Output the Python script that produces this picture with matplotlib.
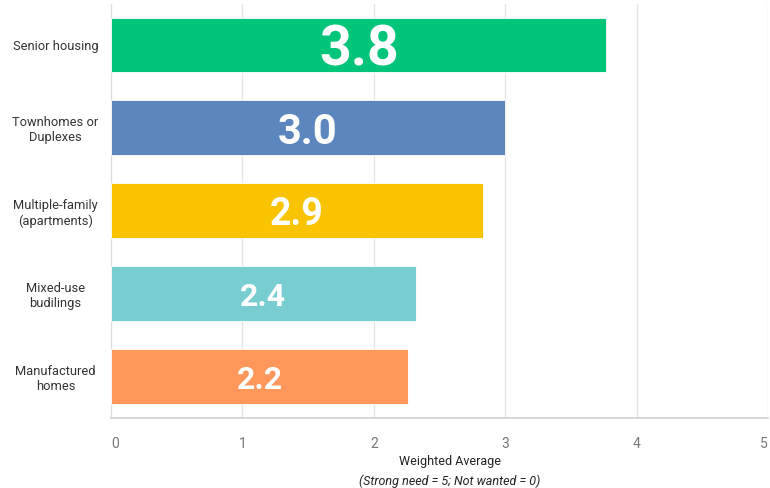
import numpy as np
import matplotlib.pyplot as plt

categories = ['Senior housing', 'Townhomes or\nDuplexes', 'Multiple-family\n(apartments)',
              'Mixed-use\nbudilings', 'Manufactured\nhomes']
values = [3.77, 3.0, 2.83, 2.32, 2.26]
value_labels = ['3.8', '3.0', '2.9', '2.4', '2.2']
label_sizes = [40, 30, 27, 23, 23]
colors = ['#02c57a', '#5b86be', '#f9c300', '#78cdd1', '#ff965a']

plt.rcParams['font.family'] = ['Roboto', 'DejaVu Sans']

fig = plt.figure(figsize=(7.7, 4.88), dpi=100)
ax = fig.add_axes([111/770, 1 - 418/488, (768 - 111)/770, (418 - 4)/488])

y = np.arange(len(categories))
ax.barh(y, values, height=0.66, color=colors, edgecolor='white', linewidth=0.6, zorder=3)

for i, (v, lab) in enumerate(zip(values, value_labels)):
    ax.text(v / 2, i, lab, ha='center', va='center_baseline', color='white',
            fontsize=label_sizes[i], fontweight='bold', zorder=4)

ax.set_xlim(0, 5)
ax.set_ylim(len(categories) - 0.5, -0.494)
ax.set_xticks(range(6))
ax.set_yticks(y)
ax.set_yticklabels(categories, ha='center', multialignment='center')
ax.tick_params(axis='y', length=0, pad=40, labelsize=9.3, labelcolor='#333333')
ax.tick_params(axis='x', length=0, pad=14, labelsize=10, labelcolor='#777777')
xt = ax.get_xticklabels()
xt[0].set_ha('left')
xt[-1].set_ha('right')

ax.grid(axis='x', color='#e6e6e6', linewidth=1, zorder=0)
for s in ['top', 'right']:
    ax.spines[s].set_visible(False)
ax.spines['left'].set_color('#dddddd')
ax.spines['bottom'].set_color('#d0d0d0')
ax.spines['bottom'].set_linewidth(1.2)

fig.text(450/770, 1 - 461/488, 'Weighted Average', ha='center', va='center',
         fontsize=9, color='#222222')
fig.text(450/770, 1 - 481/488, '(Strong need = 5; Not wanted = 0)', ha='center', va='center',
         fontsize=9, style='italic', color='#222222')

fig.savefig('out.png', dpi=100)
